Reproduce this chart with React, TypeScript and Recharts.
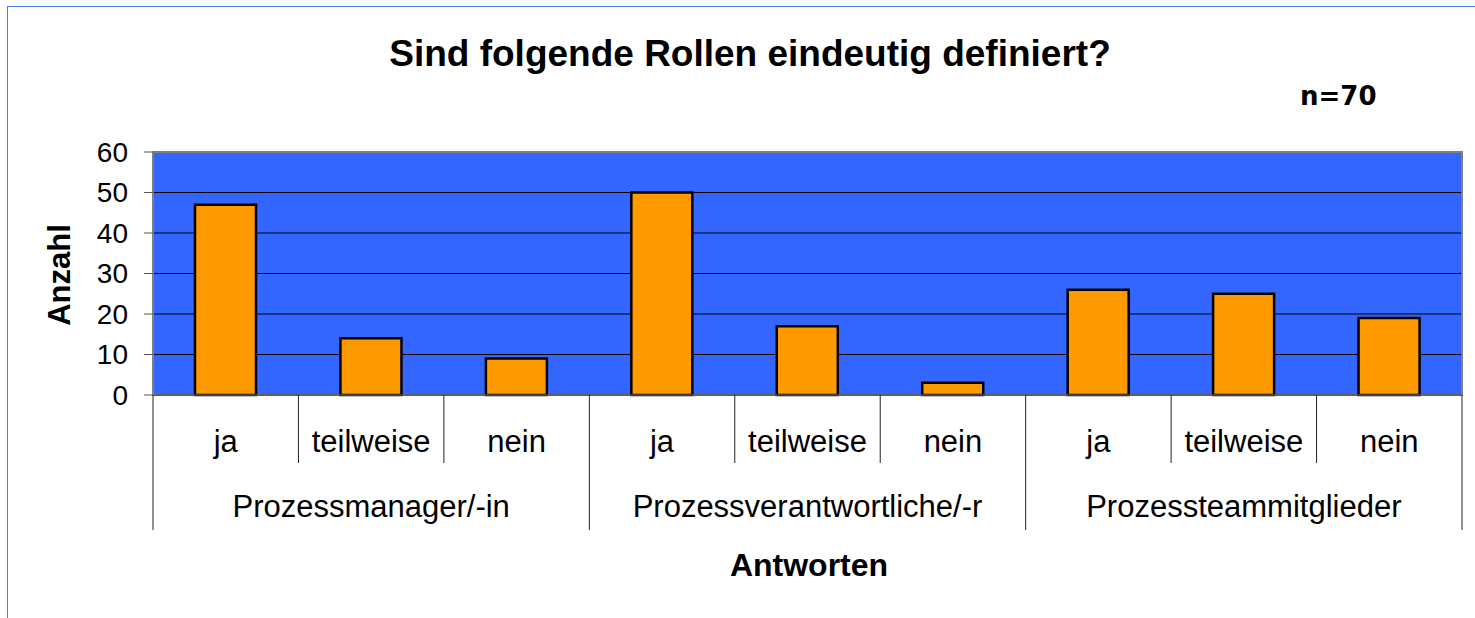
import React from 'react';
import { BarChart, Bar, XAxis, YAxis, CartesianGrid, ReferenceArea } from 'recharts';

const groups = ['Prozessmanager/-in', 'Prozessverantwortliche/-r', 'Prozessteammitglieder'];
const answers = ['ja', 'teilweise', 'nein'];
const pmValues = [47, 14, 9];
const pvValues = [50, 17, 3];
const ptValues = [26, 25, 19];
const yTicks = [0, 10, 20, 30, 40, 50, 60];

const allValues = [pmValues, pvValues, ptValues];
const data = groups.flatMap((g, gi) =>
  answers.map((a, ai) => ({ key: `${g}|${a}`, group: g, answer: a, anzahl: allValues[gi][ai] }))
);

const FONT = '"Liberation Sans", Arial, sans-serif';

const CategoryTick = (props: any) => {
  const { x, y, index, width, visibleTicksCount } = props;
  const row = data[index];
  const half = width / visibleTicksCount / 2;
  const posInGroup = index % answers.length;
  const isLast = index === data.length - 1;
  return (
    <g>
      <line x1={x - half} x2={x - half} y1={y} y2={y + (posInGroup === 0 ? 135 : 68)} stroke="#222" strokeWidth={1} />
      {isLast && <line x1={x + half} x2={x + half} y1={y} y2={y + 135} stroke="#222" strokeWidth={1} />}
      <text x={x} y={y + 57} textAnchor="middle" fontFamily={FONT} fontSize={31} fill="#000">{row.answer}</text>
      {posInGroup === 1 && (
        <text x={x} y={y + 122} textAnchor="middle" fontFamily={FONT} fontSize={31} fill="#000">{row.group}</text>
      )}
    </g>
  );
};

export default function App() {
  return (
    <div style={{ position: 'absolute', left: 0, top: 0, width: 1475, height: 618, background: '#fff', overflow: 'hidden' }}>
      <div style={{ position: 'absolute', left: 7, top: 6, width: 1500, height: 700, border: '1.5px solid #4a7bff', boxSizing: 'border-box' }} />
      <div style={{ position: 'absolute', left: 750, top: 35, transform: 'translateX(-50%)', fontFamily: FONT, fontWeight: 'bold', fontSize: 37, lineHeight: '37px', whiteSpace: 'nowrap' }}>
        Sind folgende Rollen eindeutig definiert?
      </div>
      <div style={{ position: 'absolute', left: 1300, top: 83, fontFamily: '"DejaVu Sans", Verdana, sans-serif', fontWeight: 'bold', fontSize: 26, lineHeight: '26px', whiteSpace: 'nowrap' }}>n=70</div>
      <div style={{ position: 'absolute', left: 60, top: 275, transform: 'translate(-50%, -50%) rotate(-90deg)', fontFamily: FONT, fontWeight: 'bold', fontSize: 31, whiteSpace: 'nowrap' }}>Anzahl</div>
      <div style={{ position: 'absolute', left: 809, top: 565, transform: 'translate(-50%, -50%)', fontFamily: FONT, fontWeight: 'bold', fontSize: 32, whiteSpace: 'nowrap' }}>Antworten</div>
      <div style={{ position: 'absolute', left: 0, top: 0 }}>
        <BarChart width={1475} height={618} data={data} margin={{ top: 152, right: 13, left: 0, bottom: 0 }} barSize={61}>
          <CartesianGrid fill="#3366FF" stroke="#000" strokeOpacity={1} vertical={false} horizontalValues={[10, 20, 30, 40, 50]} />
          <ReferenceArea y1={0} y2={60} fill="none" stroke="#808080" strokeWidth={2} ifOverflow="visible" />
          <XAxis
            dataKey="key"
            height={223}
            interval={0}
            tickSize={0}
            tickMargin={0}
            tickLine={false}
            axisLine={{ stroke: '#555', strokeWidth: 1.5 }}
            tick={<CategoryTick />}
          />
          <YAxis
            width={153}
            domain={[0, 60]}
            ticks={yTicks}
            interval={0}
            tickSize={9}
            tickMargin={16}
            axisLine={{ stroke: '#808080', strokeWidth: 2 }}
            tickLine={{ stroke: '#555' }}
            tick={{ fontFamily: FONT, fontSize: 28, fill: '#000' }}
          />
          <Bar dataKey="anzahl" fill="#FF9900" stroke="#000" strokeWidth={2.5} isAnimationActive={false} />
        </BarChart>
      </div>
    </div>
  );
}
